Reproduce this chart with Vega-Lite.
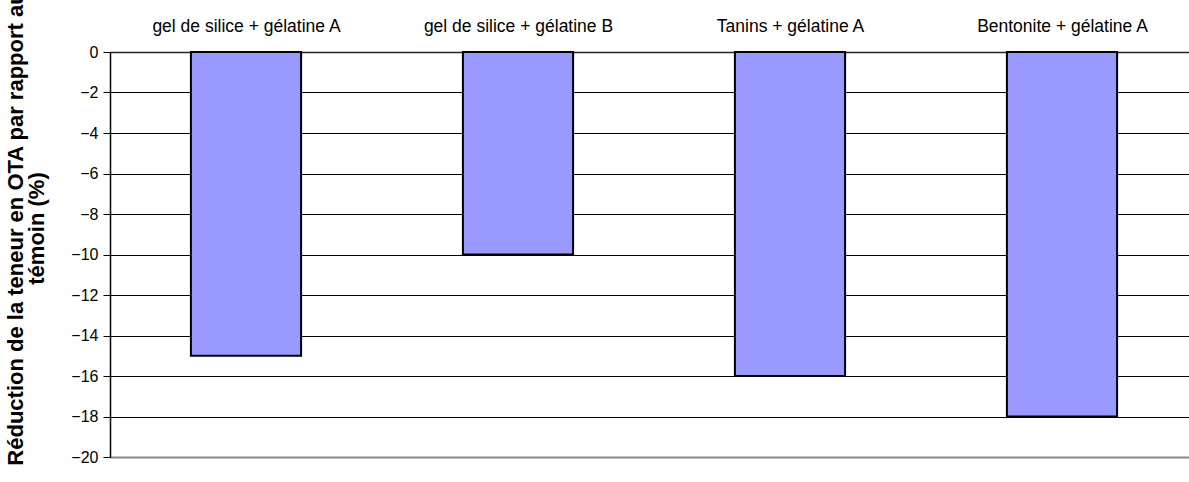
{
  "$schema": "https://vega.github.io/schema/vega-lite/v6.json",
  "autosize": {"type": "none"},
  "padding": {"left": 110, "top": 52, "right": 0, "bottom": 25},
  "width": 1079,
  "height": 405,
  "background": "white",
  "config": {
    "view": {"stroke": null},
    "font": "Liberation Sans"
  },
  "data": {
    "values": [
      {"traitement": "gel de silice + gélatine A", "reduction": -15},
      {"traitement": "gel de silice + gélatine B", "reduction": -10},
      {"traitement": "Tanins + gélatine A", "reduction": -16},
      {"traitement": "Bentonite + gélatine A", "reduction": -18}
    ]
  },
  "mark": {"type": "bar", "fill": "#9999FF", "stroke": "black", "strokeWidth": 2},
  "encoding": {
    "x": {
      "field": "traitement",
      "type": "nominal",
      "sort": null,
      "scale": {"range": [0, 1088], "paddingInner": 0.595, "paddingOuter": 0.2975},
      "axis": {
        "orient": "top",
        "title": null,
        "labelAngle": 0,
        "labelFontSize": 17.5,
        "labelLimit": 400,
        "labelColor": "black",
        "labelPadding": 23,
        "ticks": true,
        "tickBand": "extent",
        "tickSize": -6,
        "tickColor": "black",
        "tickWidth": 1.2,
        "domainColor": "#222",
        "domainWidth": 1.5,
        "grid": false
      }
    },
    "y": {
      "field": "reduction",
      "type": "quantitative",
      "scale": {"domain": [-20, 0], "nice": false},
      "axis": {
        "values": [0, -2, -4, -6, -8, -10, -12, -14, -16, -18, -20],
        "title": ["Réduction de la teneur en OTA par rapport au", "témoin (%)"],
        "titleFontSize": 22,
        "titleFontWeight": "bold",
        "titleColor": "black",
        "titleX": -105,
        "titleY": 176,
        "titleBaseline": "top",
        "titleAlign": "center",
        "titleLineHeight": 21,
        "labelFontSize": 16,
        "labelColor": "black",
        "labelPadding": 5,
        "tickSize": 7,
        "tickColor": "black",
        "domainColor": "black",
        "domainWidth": 1.5,
        "grid": true,
        "gridColor": {"condition": {"test": "datum.value === -20", "value": "#888888"}, "value": "black"},
        "gridWidth": {"condition": {"test": "datum.value === -20", "value": 2}, "value": 1}
      }
    }
  }
}
